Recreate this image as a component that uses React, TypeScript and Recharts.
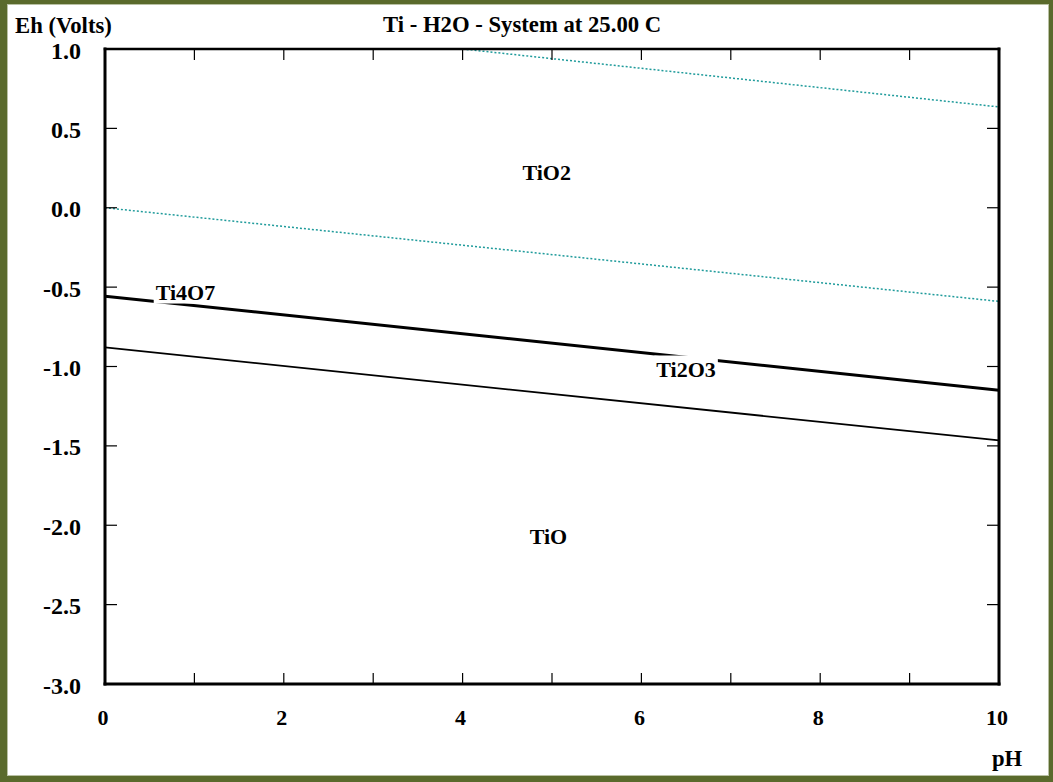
import React from 'react';
import { LineChart, Line, XAxis, YAxis, Scatter } from 'recharts';

const FONT = "'Liberation Serif', 'Times New Roman', serif";
const FS = 22;
const FS_T = 22.7;
const FS_Y = 24;

const phTicks = [0, 1, 2, 3, 4, 5, 6, 7, 8, 9, 10];
const ehTicks = [-3, -2.5, -2, -1.5, -1, -0.5, 0, 0.5, 1];

const o2Line = [{ ph: 4.0, eh: 1.0 }, { ph: 10, eh: 0.635 }];
const h2Line = [{ ph: 0, eh: 0.0 }, { ph: 10, eh: -0.59 }];
const ti4o7Boundary = [{ ph: 0, eh: -0.557 }, { ph: 10, eh: -1.149 }];
const ti2o3Boundary = [{ ph: 0, eh: -0.88 }, { ph: 10, eh: -1.466 }];

const regionLabels = [
  { ph: 4.94, eh: 0.225, name: 'TiO2' },
  { ph: 0.9, eh: -0.531, name: 'Ti4O7' },
  { ph: 6.5, eh: -1.022, name: 'Ti2O3' },
  { ph: 4.96, eh: -2.074, name: 'TiO' },
];

const TEAL = '#1f9b9b';

function measure(s: string): number {
  try {
    const ctx = document.createElement('canvas').getContext('2d');
    if (ctx) {
      ctx.font = `bold ${FS}px 'Liberation Serif'`;
      return ctx.measureText(s).width;
    }
  } catch (e) {}
  return s.length * FS * 0.55;
}

const BottomTick = (props: any) => {
  const { x, y, payload } = props;
  return (
    <g>
      <line x1={x} y1={y} x2={x} y2={y - 11} stroke="#000" strokeWidth={1.2} />
      {payload.value % 2 === 0 && (
        <text x={x - 2} y={y + 41} textAnchor="middle" fontFamily={FONT} fontWeight="bold" fontSize={FS} fill="#000">
          {payload.value}
        </text>
      )}
    </g>
  );
};

const TopTick = (props: any) => {
  const { x, y } = props;
  return <line x1={x} y1={y} x2={x} y2={y + 11} stroke="#000" strokeWidth={1.2} />;
};

const LeftTick = (props: any) => {
  const { x, y, payload } = props;
  return (
    <g>
      <line x1={x} y1={y} x2={x + 12} y2={y} stroke="#000" strokeWidth={1.2} />
      <text x={x - 24} y={y + 9.5} textAnchor="end" fontFamily={FONT} fontWeight="bold" fontSize={FS_Y} fill="#000">
        {Number(payload.value).toFixed(1)}
      </text>
    </g>
  );
};

const RightTick = (props: any) => {
  const { x, y } = props;
  return <line x1={x} y1={y} x2={x - 12} y2={y} stroke="#000" strokeWidth={1.2} />;
};

const RegionLabel = (props: any) => {
  const { cx, cy, payload } = props;
  if (cx == null || cy == null) return <g />;
  const name = payload?.name ?? '';
  const w = measure(name);
  const base = cy + 7.5;
  return (
    <g>
      <rect x={cx - w / 2 - 2} y={base - 22} width={w + 4} height={26} fill="#fff" />
      <text x={cx} y={base} textAnchor="middle" fontFamily={FONT} fontWeight="bold" fontSize={FS} fill="#000">
        {name}
      </text>
    </g>
  );
};

export default function App() {
  return (
    <div style={{ position: 'absolute', left: 0, top: 0, width: 1053, height: 782, background: '#fff' }}>
      <div
        style={{
          position: 'absolute',
          left: 0,
          top: 0,
          width: 1053,
          height: 782,
          boxSizing: 'border-box',
          borderStyle: 'solid',
          borderColor: '#5a6a2c',
          borderWidth: '4px 4px 6px 7px',
        }}
      >
        <div style={{ width: '100%', height: '100%', boxSizing: 'border-box', border: '1px solid #b9c1a4' }} />
      </div>
      <div style={{ position: 'absolute', left: 0, top: 0 }}>
        <LineChart width={1053} height={782} margin={{ top: 48, right: 53, bottom: 97, left: 104 }}>
          <XAxis
            xAxisId="b"
            dataKey="ph"
            type="number"
            domain={[0, 10]}
            ticks={phTicks}
            interval={0}
            height={1}
            tickSize={0}
            tickMargin={0}
            tickLine={false}
            tick={<BottomTick />}
            axisLine={{ stroke: '#000', strokeWidth: 3, strokeLinecap: 'square' }}
            allowDataOverflow
          />
          <XAxis
            xAxisId="t"
            orientation="top"
            dataKey="ph"
            type="number"
            domain={[0, 10]}
            ticks={phTicks}
            interval={0}
            height={1}
            tickSize={0}
            tickMargin={0}
            tickLine={false}
            tick={<TopTick />}
            axisLine={{ stroke: '#000', strokeWidth: 2.5, strokeLinecap: 'square' }}
            allowDataOverflow
          />
          <YAxis
            yAxisId="l"
            type="number"
            domain={[-3, 1]}
            ticks={ehTicks}
            interval={0}
            width={1}
            tickSize={0}
            tickMargin={0}
            tickLine={false}
            tick={<LeftTick />}
            axisLine={{ stroke: '#000', strokeWidth: 3, strokeLinecap: 'square' }}
            allowDataOverflow
          />
          <YAxis
            yAxisId="r"
            orientation="right"
            type="number"
            domain={[-3, 1]}
            ticks={ehTicks}
            interval={0}
            width={1}
            tickSize={0}
            tickMargin={0}
            tickLine={false}
            tick={<RightTick />}
            axisLine={{ stroke: '#000', strokeWidth: 3, strokeLinecap: 'square' }}
            allowDataOverflow
          />
          <Line xAxisId="b" yAxisId="l" data={o2Line} dataKey="eh" stroke={TEAL} strokeWidth={1.5} strokeDasharray="2 2" dot={false} activeDot={false} isAnimationActive={false} />
          <Line xAxisId="b" yAxisId="l" data={h2Line} dataKey="eh" stroke={TEAL} strokeWidth={1.5} strokeDasharray="2 2" dot={false} activeDot={false} isAnimationActive={false} />
          <Line xAxisId="b" yAxisId="l" data={ti4o7Boundary} dataKey="eh" stroke="#000" strokeWidth={3} dot={false} activeDot={false} isAnimationActive={false} />
          <Line xAxisId="b" yAxisId="l" data={ti2o3Boundary} dataKey="eh" stroke="#000" strokeWidth={1.8} dot={false} activeDot={false} isAnimationActive={false} />
          <Scatter xAxisId="b" yAxisId="l" data={regionLabels} dataKey="eh" shape={<RegionLabel />} isAnimationActive={false} />
        </LineChart>
      </div>
      <svg width={1053} height={782} style={{ position: 'absolute', left: 0, top: 0, pointerEvents: 'none' }}>
        <text x={15} y={32.5} fontFamily={FONT} fontWeight="bold" fontSize={FS_T} fill="#000">Eh (Volts)</text>
        <text x={383} y={32} fontFamily={FONT} fontWeight="bold" fontSize={FS_T} fill="#000">Ti - H2O - System at 25.00 C</text>
        <text x={992} y={766} fontFamily={FONT} fontWeight="bold" fontSize={FS_T} fill="#000">pH</text>
      </svg>
    </div>
  );
}
